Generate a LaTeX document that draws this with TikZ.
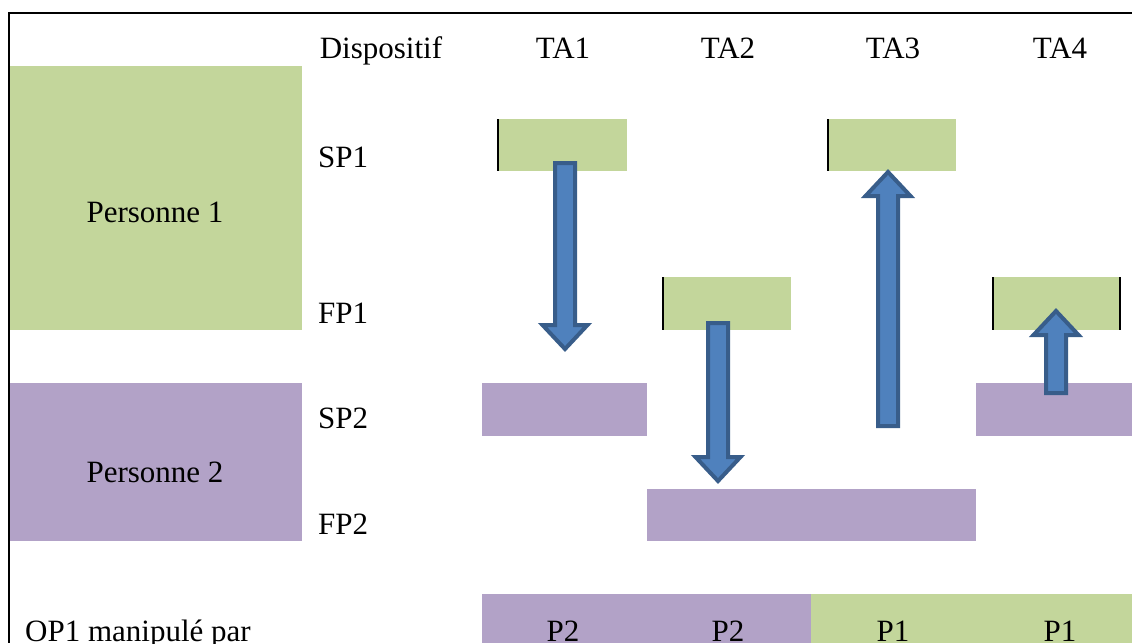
\documentclass[tikz,border=0pt]{standalone}
\usepackage{fontspec}
\setmainfont{Liberation Serif}
\definecolor{vert}{RGB}{195,214,155}
\definecolor{violet}{RGB}{178,162,199}
\definecolor{bleu}{RGB}{79,129,189}
\definecolor{bleufonce}{RGB}{56,93,138}
\begin{document}
\begin{tikzpicture}[x=1pt,y=-1pt,
    texte/.style={inner sep=0pt,anchor=base,font=\fontsize{31}{36}\selectfont},
    bord/.style={line width=2pt},
    fleche/.style={fill=bleu,draw=bleufonce,line width=4pt,line join=miter}]
    \useasboundingbox (0,0) rectangle (1132,643);
    %%%%%%%%%%%%%%%%%%%%%%%%%%%%%%%%%%%%%% Cadre
    \draw[line width=2.5pt] (1132,13)--(9,13)--(9,643);

    %%%%%%%%%%%%%%%%%%%%%%%%%%%%%%%%%%%%%% Personnes
    \fill[vert] (10,66) rectangle (302,330);
    \fill[violet] (10,383) rectangle (302,541);
    \node[texte] (p1) at (155,222) {Personne 1};
    \node[texte] (p2) at (155,482) {Personne 2};

    %%%%%%%%%%%%%%%%%%%%%%%%%%%%%%%%%%%%%% En-tetes
    \node[texte] (disp) at (381,58) {Dispositif};
    \node[texte] (ta1) at (563,58) {TA1};
    \node[texte] (ta2) at (728,58) {TA2};
    \node[texte] (ta3) at (893,58) {TA3};
    \node[texte] (ta4) at (1060,58) {TA4};

    \node[texte,anchor=base west] (sp1) at (318,167) {SP1};
    \node[texte,anchor=base west] (fp1) at (318,323) {FP1};
    \node[texte,anchor=base west] (sp2) at (318,428) {SP2};
    \node[texte,anchor=base west] (fp2) at (318,534) {FP2};

    %%%%%%%%%%%%%%%%%%%%%%%%%%%%%%%%%%%%%% Barres
    \fill[vert] (497,119) rectangle (627,171);
    \fill[vert] (827,119) rectangle (956,171);
    \fill[vert] (662,277) rectangle (791,330);
    \fill[vert] (992,277) rectangle (1121,330);
    \fill[violet] (482,383) rectangle (647,436);
    \fill[violet] (976,383) rectangle (1132,436);
    \fill[violet] (647,489) rectangle (976,541);

    \draw[bord] (498,119)--(498,171);
    \draw[bord] (828,119)--(828,171);
    \draw[bord] (663,277)--(663,330);
    \draw[bord] (993,277)--(993,330);
    \draw[bord] (1120,277)--(1120,330);

    %%%%%%%%%%%%%%%%%%%%%%%%%%%%%%%%%%%%%% Fleches
    \foreach \x/\ya/\yb in {565/163/349, 718/323/481, 888/426/172, 1056/393/311}{
        \pgfmathsetmacro\s{sign(\yb-\ya)}
        \pgfmathsetmacro\yh{\yb-24*\s}
        \draw[fleche] (\x-10,\ya)--(\x-10,\yh)--(\x-22.5,\yh)--(\x,\yb)
            --(\x+22.5,\yh)--(\x+10,\yh)--(\x+10,\ya)--cycle;
    }

    %%%%%%%%%%%%%%%%%%%%%%%%%%%%%%%%%%%%%% OP1
    \fill[violet] (482,594) rectangle (811,643);
    \fill[vert] (811,594) rectangle (1132,643);
    \node[texte,anchor=base west] (op1) at (25,641) {OP1 manipulé par};
    \node[texte] (m1) at (563,641) {P2};
    \node[texte] (m2) at (728,641) {P2};
    \node[texte] (m3) at (893,641) {P1};
    \node[texte] (m4) at (1060,641) {P1};
\end{tikzpicture}
\end{document}
